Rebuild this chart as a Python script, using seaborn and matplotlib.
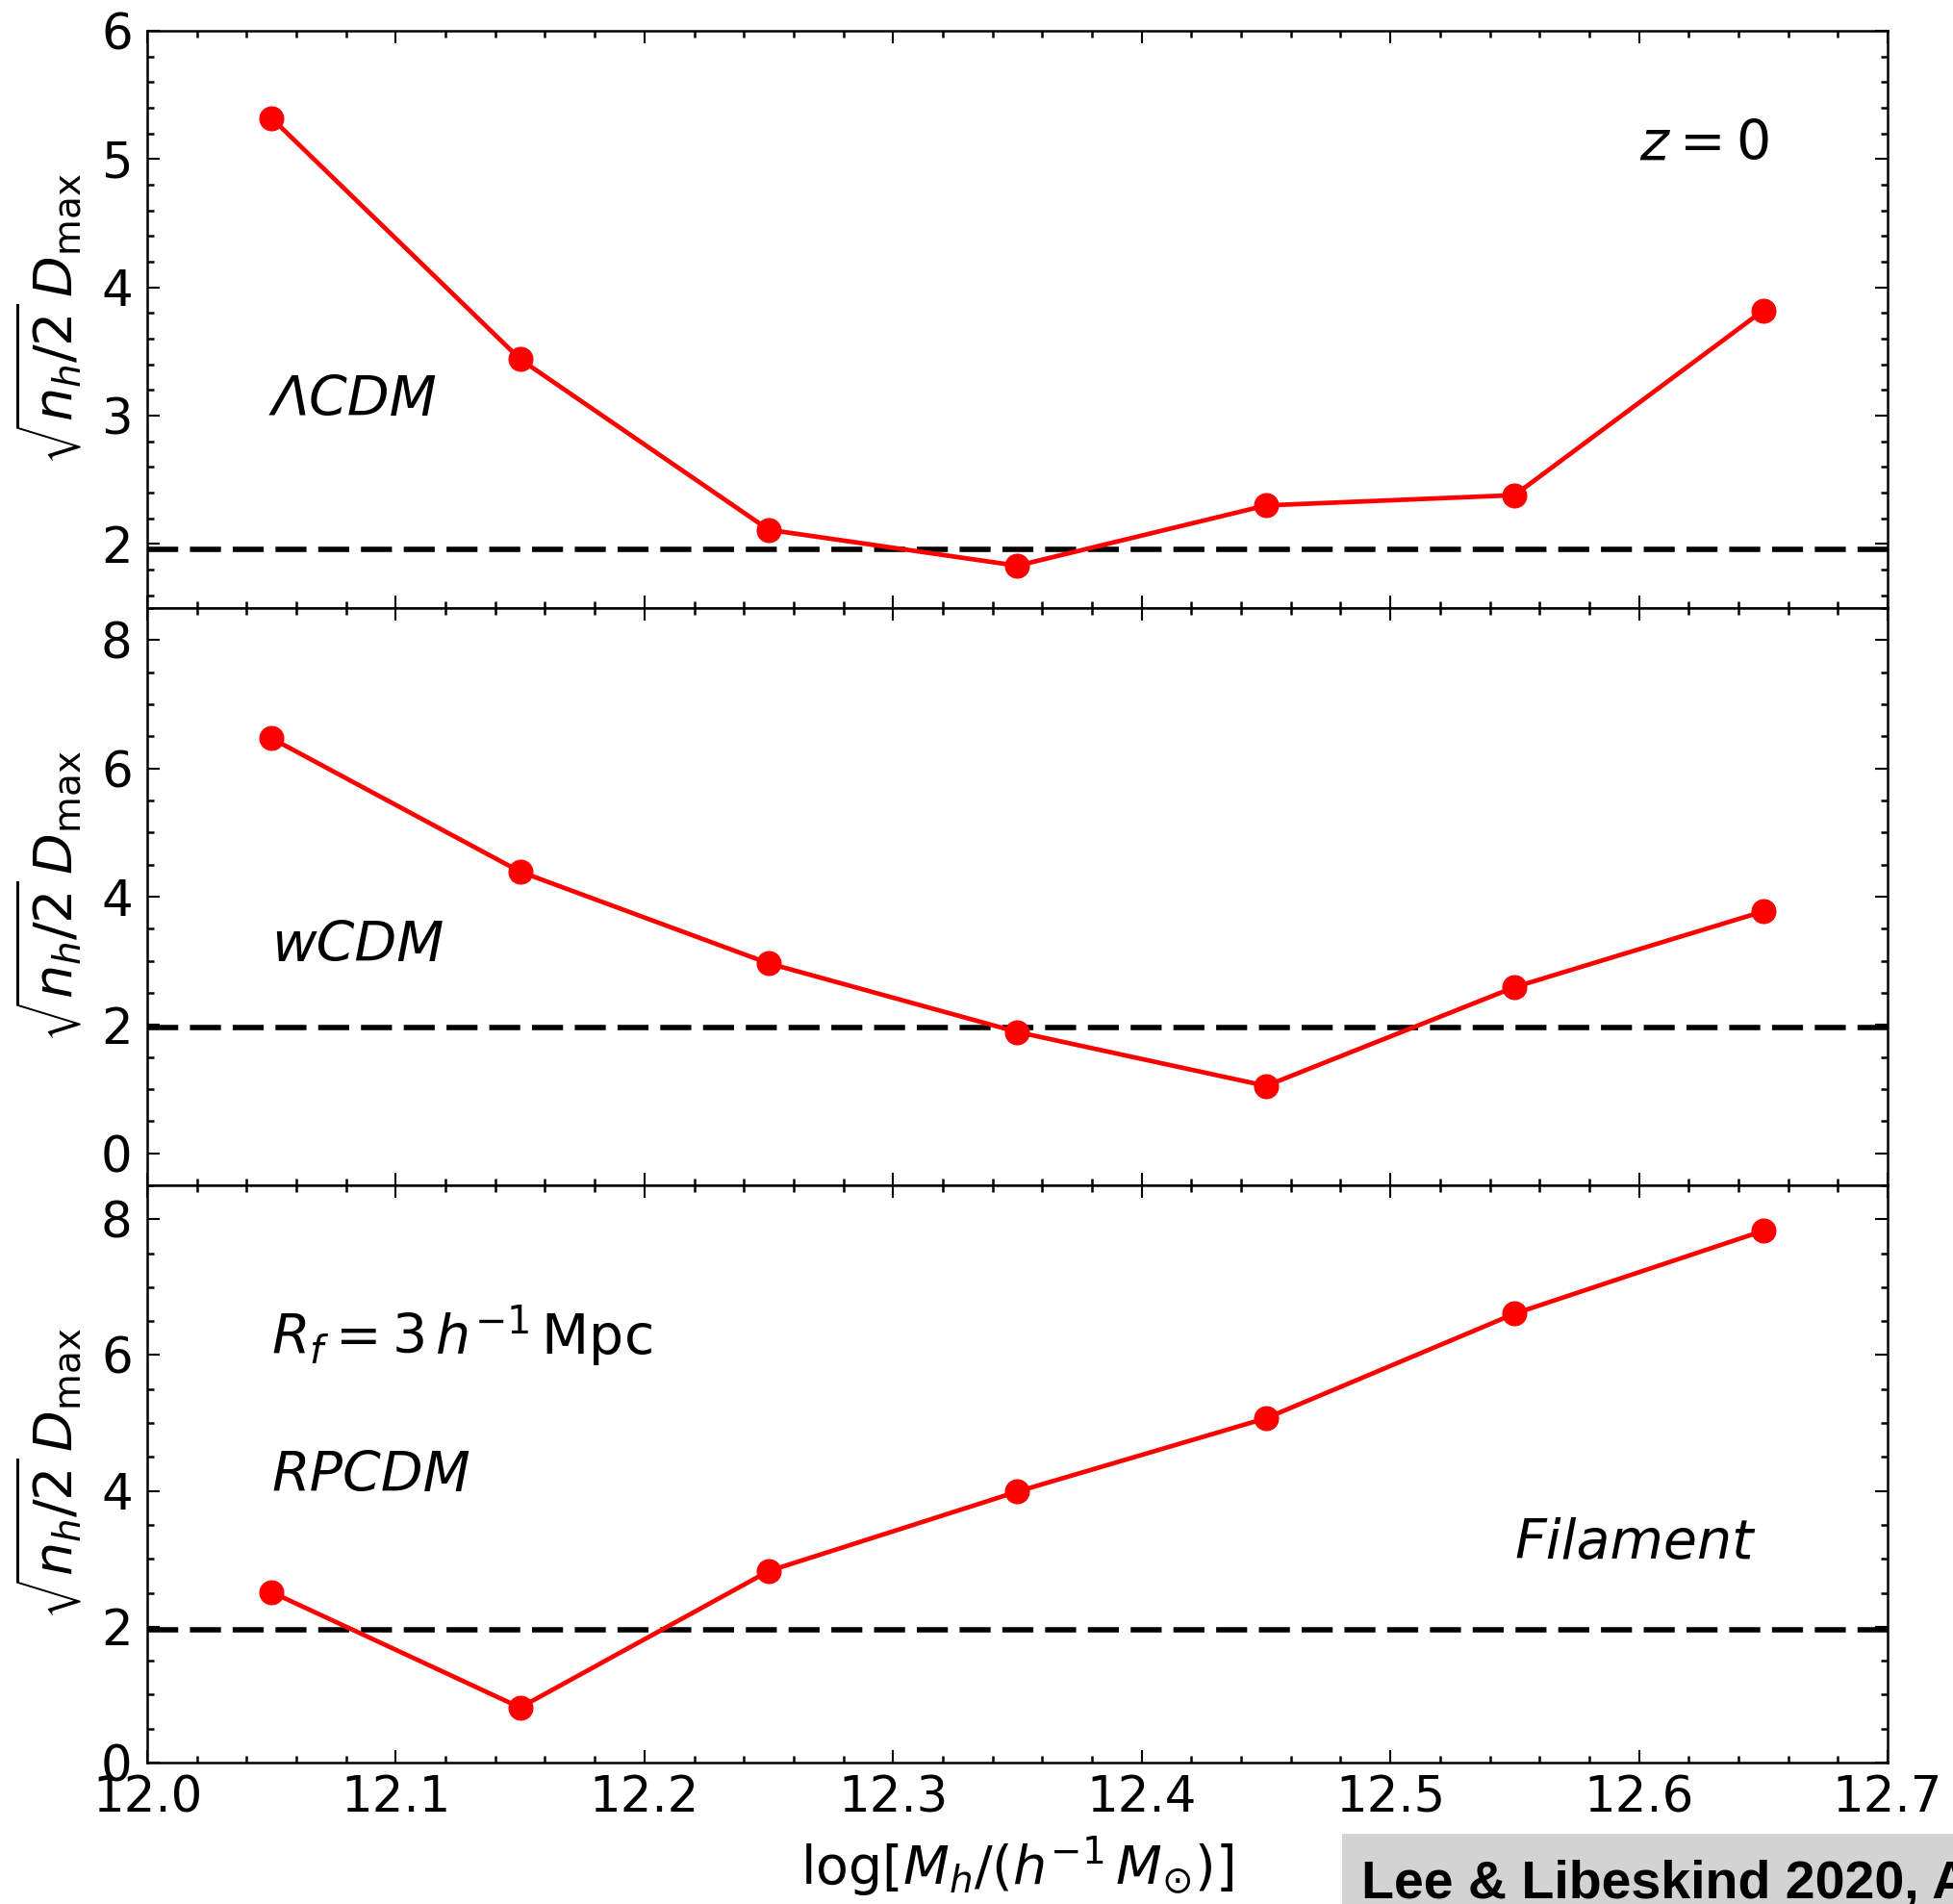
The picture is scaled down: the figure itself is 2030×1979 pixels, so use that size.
import matplotlib
matplotlib.use("Agg")
import matplotlib.pyplot as plt
import seaborn as sns
import numpy as np
import pandas as pd
from matplotlib.ticker import MultipleLocator
from matplotlib.patches import Rectangle

# ---------------- data ----------------
log_mass = [12.05, 12.15, 12.25, 12.35, 12.45, 12.55, 12.65]
lcdm = [5.32, 3.44, 2.11, 1.83, 2.30, 2.38, 3.82]
wcdm = [6.47, 4.39, 2.96, 1.89, 1.05, 2.59, 3.77]
rpcdm = [2.51, 0.81, 2.82, 3.99, 5.07, 6.61, 7.83]
threshold = 1.96
panel_names = ["ΛCDM", "wCDM", "RPCDM"]
ylims = [(1.5, 6.0), (-0.5, 8.5), (0.0, 8.5)]
y_major = [1, 2, 2]
y_minor = [0.2, 0.5, 0.5]
xticks = [12.0, 12.1, 12.2, 12.3, 12.4, 12.5, 12.6, 12.7]
credit = "Lee & Libeskind 2020, ApJ"

df = pd.DataFrame({
    "x": log_mass * 3,
    "y": lcdm + wcdm + rpcdm,
    "model": sum([[n] * len(log_mass) for n in panel_names], []),
})

sns.set_style("white")
plt.rcParams['font.family'] = ['DejaVu Sans']
plt.rcParams['mathtext.fontset'] = 'dejavusans'
plt.rcParams['text.color'] = 'black'
plt.rcParams['axes.labelcolor'] = 'black'
plt.rcParams['xtick.color'] = 'black'
plt.rcParams['ytick.color'] = 'black'
plt.rcParams['xtick.labelcolor'] = 'black'
plt.rcParams['ytick.labelcolor'] = 'black'

fig, axes = plt.subplots(3, 1, figsize=(20.31, 19.79), dpi=100, sharex=True,
                         gridspec_kw=dict(hspace=0))
fig.subplots_adjust(left=153/2031, right=1962/2031, top=1-32/1979, bottom=1-1832/1979)

for i, (ax, name) in enumerate(zip(axes, panel_names)):
    sub = df[df["model"] == name]
    sns.lineplot(data=sub, x="x", y="y", ax=ax, color="red", marker="o",
                 markersize=18, markeredgecolor="red", markerfacecolor="red",
                 linewidth=3.4, legend=False)
    ax.axhline(threshold, color="black", lw=4, ls=(0, (5.8, 2.2)), zorder=1)
    ax.set_xlim(12.0, 12.7)
    ax.set_ylim(*ylims[i])
    ax.xaxis.set_major_locator(MultipleLocator(0.1))
    ax.xaxis.set_minor_locator(MultipleLocator(0.02))
    ax.yaxis.set_major_locator(MultipleLocator(y_major[i]))
    ax.yaxis.set_minor_locator(MultipleLocator(y_minor[i]))
    ax.tick_params(which="both", direction="in", top=True, right=True,
                   bottom=True, left=True, color="black", labelcolor="black")
    ax.tick_params(which="major", length=9.5, width=1.5, labelsize=37, pad=11)
    ax.tick_params(which="minor", length=5, width=1.8)
    ax.tick_params(axis="x", which="major", pad=9)
    for sp in ax.spines.values():
        sp.set_color("black")
        sp.set_linewidth(1.8)
    ax.set_xlabel("")
    ax.set_ylabel(r"$\sqrt{n_h/2}\,D_{\rm max}$", fontsize=40, color="black")
    ax.yaxis.set_label_coords(-0.036, 0.5)
    ax.set_xticks(xticks)

axes[0].set_yticks([2, 3, 4, 5, 6])
axes[1].set_yticks([0, 2, 4, 6, 8])
axes[2].set_yticks([0, 2, 4, 6, 8])
axes[2].set_xticklabels([f"{t:.1f}" for t in xticks])

axes[2].set_xlabel(r"$\log[M_h/(h^{-1}\,M_{\odot})]$", fontsize=40, labelpad=8,
                   color="black")

# annotations
axes[0].text(12.05, 3.0, "ΛCDM", fontsize=41, style="italic", ha="left", va="baseline", color="black")
axes[0].text(12.60, 5.0, r"$z=0$", fontsize=41, ha="left", va="baseline", color="black")
axes[1].text(12.05, 3.0, "wCDM", fontsize=41, style="italic", ha="left", va="baseline", color="black")
axes[2].text(12.05, 6.0, r"$R_f=3\,h^{-1}\,{\rm Mpc}$", fontsize=41, ha="left", va="baseline", color="black")
axes[2].text(12.05, 4.0, "RPCDM", fontsize=41, style="italic", ha="left", va="baseline", color="black")
axes[2].text(12.55, 3.0, "Filament", fontsize=41, style="italic", ha="left", va="baseline", color="black")

# credit box
fig.patches.append(Rectangle((1395/2031, 0), 0.4, 1 - 1906/1979,
                             transform=fig.transFigure, facecolor="#d3d3d3",
                             edgecolor="none", zorder=5))
fig.text(1415/2031, 1 - 1973/1979, credit, fontsize=40, fontweight="bold",
         family="Liberation Sans", ha="left", va="baseline", zorder=6, color="black")

fig.savefig("out.png", dpi=100)
